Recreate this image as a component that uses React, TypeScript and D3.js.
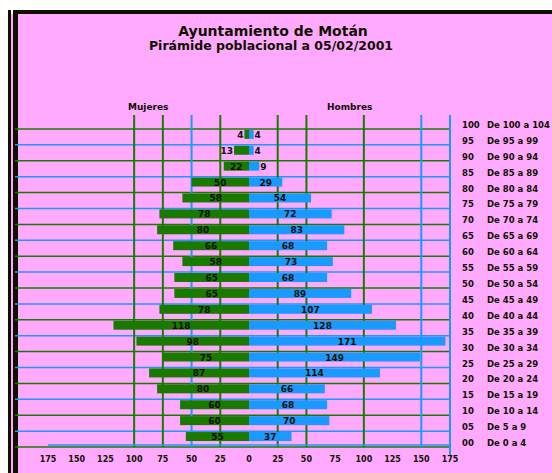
import React from "react";
import * as d3 from "d3";

const ageGroups = ["100","95","90","85","80","75","70","65","60","55","50","45","40","35","30","25","20","15","10","05","00"];
const ageLabels = ["De 100 a 104","De 95 a 99","De 90 a 94","De 85 a 89","De 80 a 84","De 75 a 79","De 70 a 74","De 65 a 69","De 60 a 64","De 55 a 59","De 50 a 54","De 45 a 49","De 40 a 44","De 35 a 39","De 30 a 34","De 25 a 29","De 20 a 24","De 15 a 19","De 10 a 14","De 5 a 9","De 0 a 4"];
const mujeres = [0,4,13,22,50,58,78,80,66,58,65,65,78,118,98,75,87,80,60,60,55];
const hombres = [0,4,4,9,29,54,72,83,68,73,68,89,107,128,171,149,114,66,68,70,37];
const tickValues = [-175,-150,-125,-100,-75,-50,-25,0,25,50,75,100,125,150,175];
const gridValues = [-100,-75,-50,-25,25,50,100,150,175];
const gridColors = ["#1a7a00","#1a7a00","#1a9aff","#1a7a00","#1a7a00","#1a7a00","#1a7a00","#1a9aff","#1a9aff"];

const PINK = "#ffaaff";
const GREEN = "#1a7a00";
const BLUE = "#1a9aff";
const DARK = "#101000";
const FONT = "DejaVu Sans, sans-serif";

export default function App() {
  const W = 552, H = 473;
  const x = d3.scaleLinear().domain([-175, 175]).range([48, 450]);
  const y = d3.scaleBand<string>().domain(ageGroups).range([117, 451]);
  const yc = (g: string) => (y(g) as number) + y.bandwidth() / 2;
  const barH = 9;
  const minInside = 16;

  const leftLabel = (v: number) => {
    const w = x(0) - x(-v);
    return w >= minInside
      ? { x: (x(-v) + x(0)) / 2, anchor: "middle" }
      : { x: x(-v) - 1, anchor: "end" };
  };
  const rightLabel = (v: number) => {
    const w = x(v) - x(0);
    return w >= minInside
      ? { x: (x(v) + x(0)) / 2, anchor: "middle" }
      : { x: x(v) + 1, anchor: "start" };
  };

  return (
    <svg width={W} height={H} style={{ position: "absolute", left: 0, top: 0 }} fontFamily={FONT}>
      <rect x={0} y={0} width={W} height={H} fill="#ffffff" />
      <rect x={11} y={14} width={W - 11} height={H - 14} fill={PINK} />
      <rect x={8} y={10} width={3} height={H - 10} fill={DARK} />
      <rect x={13} y={10} width={5} height={H - 10} fill={DARK} />
      <rect x={13} y={10} width={W - 13} height={4} fill={DARK} />

      <text x={273} y={36} textAnchor="middle" fontSize={14} fontWeight="bold" fill={DARK}>Ayuntamiento de Motán</text>
      <text x={271} y={50} textAnchor="middle" fontSize={12.5} fontWeight="bold" fill={DARK}>Pirámide poblacional a 05/02/2001</text>

      <text x={128} y={110} fontSize={9} fontWeight="bold" fill={DARK}>Mujeres</text>
      <text x={327} y={110} fontSize={9} fontWeight="bold" fill={DARK}>Hombres</text>

      {ageGroups.map((g, i) => (
        <line key={"h" + g} x1={15} x2={450} y1={yc(g) + 4} y2={yc(g) + 4}
          stroke={i % 2 === 0 ? GREEN : BLUE} strokeWidth={1.5} />
      ))}
      {gridValues.map((v, i) => (
        <line key={"v" + v} x1={x(v)} x2={x(v)} y1={115} y2={447} stroke={gridColors[i]} strokeWidth={2} />
      ))}
      <line x1={450} x2={450} y1={115} y2={455} stroke={BLUE} strokeWidth={2} />

      {ageGroups.map((g, i) => {
        const ll = leftLabel(mujeres[i]);
        const rl = rightLabel(hombres[i]);
        return (
          <g key={"b" + g}>
            {mujeres[i] > 0 && (
              <rect x={x(-mujeres[i])} y={yc(g) - 11} width={x(0) - x(-mujeres[i])} height={barH} fill={GREEN} />
            )}
            {hombres[i] > 0 && (
              <rect x={x(0)} y={yc(g) - 11} width={x(hombres[i]) - x(0)} height={barH} fill={BLUE} />
            )}
            {mujeres[i] > 0 && (
              <text x={ll.x} y={yc(g) - 3} textAnchor={ll.anchor} fontSize={9} fontWeight="bold" fill={DARK}>{mujeres[i]}</text>
            )}
            {hombres[i] > 0 && (
              <text x={rl.x} y={yc(g) - 3} textAnchor={rl.anchor} fontSize={9} fontWeight="bold" fill={DARK}>{hombres[i]}</text>
            )}
            <text x={462} y={yc(g) + 3} fontSize={8.5} fontWeight="bold" fill={DARK}>{g}</text>
            <text x={487} y={yc(g) + 3} fontSize={8.5} fontWeight="bold" fill={DARK}>{ageLabels[i]}</text>
          </g>
        );
      })}

      <line x1={x(-175)} x2={x(175)} y1={445} y2={445} stroke={BLUE} strokeWidth={1.5} />
      {tickValues.map((v) => (
        <text key={"t" + v} x={x(v)} y={462} textAnchor="middle" fontSize={8} fontWeight="bold" fill={DARK}>{Math.abs(v)}</text>
      ))}
    </svg>
  );
}
